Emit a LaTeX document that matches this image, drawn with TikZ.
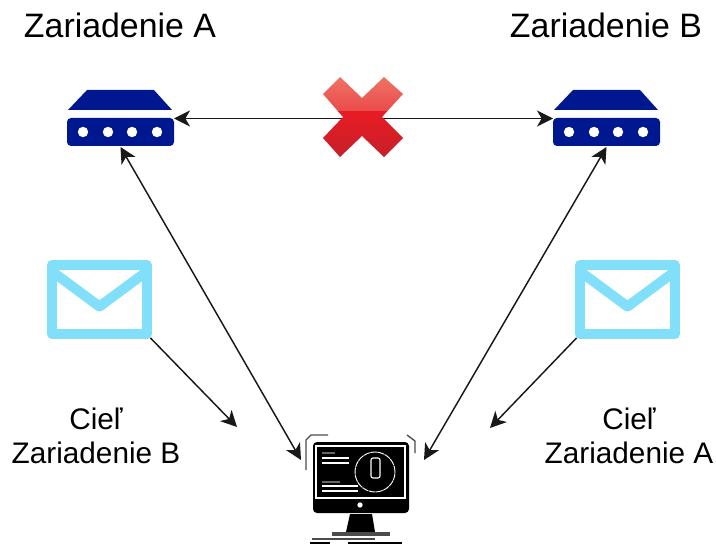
\documentclass[tikz,border=0pt]{standalone}
\usepackage{fontspec}
\setmainfont{Liberation Sans}
\usetikzlibrary{arrows.meta}

\definecolor{routerblue}{HTML}{00188F}
\definecolor{mailblue}{HTML}{81DFF9}
\definecolor{crosstop}{HTML}{EF7566}
\definecolor{crossmid}{HTML}{EA4A4A}
\definecolor{crosslow}{HTML}{E81C24}
\definecolor{crossend}{HTML}{C4202A}

\tikzset{
  link/.style={draw=black!90, line width=1.1pt, -{Stealth[length=12pt,width=12pt,inset=3.5pt]}},
  duplex/.style={link, {Stealth[length=12pt,width=12pt,inset=3.5pt]}-{Stealth[length=12pt,width=12pt,inset=3.5pt]}},
  anchorbox/.style={inner sep=0pt, outer sep=0pt},
  bigtext/.style={font=\fontsize{25.4}{30}\selectfont},
  smalltext/.style={font=\fontsize{22.3}{25.5}\selectfont, align=center},
  routericon/.pic={
    \fill[routerblue] (-33,-28) -- (34,-28) -- (52,-8) -- (-52,-8) -- cycle;
    \fill[routerblue, rounded corners=3pt] (-53,0) rectangle (54,28);
    \foreach \dotx in {-37,-12,12,37}
      \fill[white] (\dotx,14) circle (3.9pt);
  },
  mailicon/.pic={
    \draw[mailblue, line width=7.5pt, line join=round] (-47.5,-34.5) rectangle (47.5,34.5);
    \draw[mailblue, line width=7.5pt, line join=round] (-46,-27) -- (0,7) -- (46,-27);
  }
}

\begin{document}
\begin{tikzpicture}[x=0.75pt, y=-0.75pt]

\useasboundingbox (0,0) rectangle (716,545);
\fill[white] (0,0) rectangle (716,545);

% nodes
\node[bigtext] (titleA) at (120,25) {Zariadenie A};
\node[bigtext] (titleB) at (606,25) {Zariadenie B};

\node[anchorbox, minimum width=80.25pt, minimum height=42.75pt] (routerA) at (120.5,118.5) {};
\node[anchorbox, minimum width=80.25pt, minimum height=42.75pt] (routerB) at (606.5,118.5) {};
\pic at (120,118) {routericon};
\pic at (606,118) {routericon};

\node[anchorbox, minimum width=76.5pt, minimum height=57.75pt] (mailA) at (99.5,299.5) {};
\node[anchorbox, minimum width=76.5pt, minimum height=57.75pt] (mailB) at (627.5,299.5) {};
\pic at (99.5,299.5) {mailicon};
\pic at (627.5,299.5) {mailicon};

\node[smalltext] (targetA) at (96,436) {Cieľ\\Zariadenie B};
\node[smalltext] (targetB) at (629,436) {Cieľ\\Zariadenie A};

\coordinate (monitorL) at (301,460);
\coordinate (monitorR) at (424,460);
\coordinate (mailendA) at (237,427);
\coordinate (mailendB) at (490,428);

% arrows
\draw [duplex] (routerA.east) -- (routerB.west);
\draw [duplex] (routerA.south) -- (monitorL);
\draw [duplex] (routerB.south) -- (monitorR);
\draw [link] (mailA.south east) -- (mailendA);
\draw [link] (mailB.south west) -- (mailendB);

% cross
\begin{scope}
  \clip (323,94) -- (340,77) -- (362,98) -- (384,77) -- (403,94) -- (382,117) -- (403,138)
    -- (384,157) -- (362,136) -- (340,157) -- (323,138) -- (343,117) -- cycle;
  \shade[top color=crosstop, bottom color=crossmid] (320,75) rectangle (406,112);
  \shade[top color=crosslow, bottom color=crossend] (320,112) rectangle (406,160);
\end{scope}

% monitor
\fill[black, rounded corners=3pt] (313,442) rectangle (409,513);
\draw[white, line width=0.8pt] (316,446) rectangle (405,498);
\draw[white, line width=0.7pt, dash pattern=on 5pt off 0.5pt] (375,472) circle (15pt);
\draw[white, line width=0.8pt, rounded corners=1.5pt] (371,458) rectangle (380,478);
\draw[black!60!white, line width=1.2pt] (322,453) -- (335,453);
\draw[white, line width=0.9pt] (322,458) -- (349,458);
\draw[white, line width=0.9pt] (322,463) -- (349,463);
\draw[black!60!white, line width=1.2pt] (322,482) -- (340,482);
\draw[white, line width=0.9pt] (322,486) -- (358,486);
\draw[white, line width=0.9pt] (322,491) -- (358,491);
\fill[white] (360,505) circle (2pt);
\fill[black] (350,514) -- (372,514) -- (375,532) -- (346,532) -- cycle;
\draw[black!70!white, line width=2.4pt] (332,534) -- (390,534);
\draw[black!70!white, line width=1.5pt] (312,539) -- (375,539);
\draw[black, line width=1.2pt] (310,543) -- (330,543);
\draw[black, line width=1.2pt] (348,543) -- (402,543);
\draw[black!70!white, line width=1pt] (328,435) -- (311,435) -- (306,440) -- (306,470);
\draw[black!70!white, line width=1pt] (407,435) -- (415,441) -- (415,453);

\end{tikzpicture}
\end{document}
